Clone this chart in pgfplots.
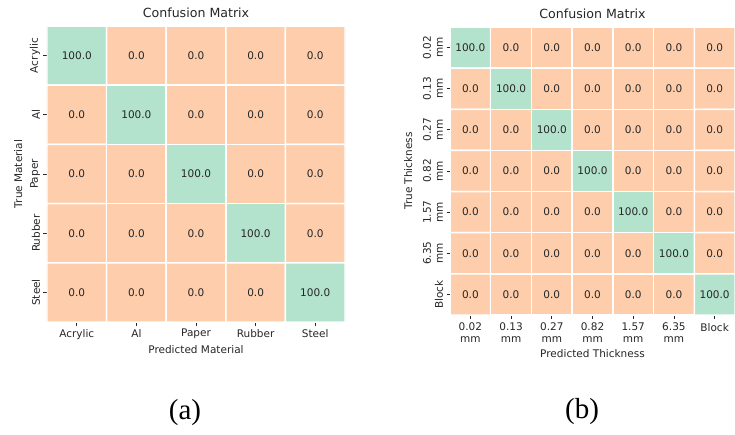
\documentclass[border=0pt]{standalone}
\usepackage{pgfplots}
\pgfplotsset{compat=1.18}
\usepackage{pgfplotstable}
\usepackage{fontspec}
\setmainfont{DejaVu Sans}
\newfontfamily\capfont{Liberation Serif}
\definecolor{txt}{HTML}{262626}

\pgfplotstableread{
x y v
0 0 100.0
1 0 0.0
2 0 0.0
3 0 0.0
4 0 0.0
0 1 0.0
1 1 100.0
2 1 0.0
3 1 0.0
4 1 0.0
0 2 0.0
1 2 0.0
2 2 100.0
3 2 0.0
4 2 0.0
0 3 0.0
1 3 0.0
2 3 0.0
3 3 100.0
4 3 0.0
0 4 0.0
1 4 0.0
2 4 0.0
3 4 0.0
4 4 100.0
}\matA

\pgfplotstableread{
x y v
0 0 100.0
1 0 0.0
2 0 0.0
3 0 0.0
4 0 0.0
5 0 0.0
6 0 0.0
0 1 0.0
1 1 100.0
2 1 0.0
3 1 0.0
4 1 0.0
5 1 0.0
6 1 0.0
0 2 0.0
1 2 0.0
2 2 100.0
3 2 0.0
4 2 0.0
5 2 0.0
6 2 0.0
0 3 0.0
1 3 0.0
2 3 0.0
3 3 100.0
4 3 0.0
5 3 0.0
6 3 0.0
0 4 0.0
1 4 0.0
2 4 0.0
3 4 0.0
4 4 100.0
5 4 0.0
6 4 0.0
0 5 0.0
1 5 0.0
2 5 0.0
3 5 0.0
4 5 0.0
5 5 100.0
6 5 0.0
0 6 0.0
1 6 0.0
2 6 0.0
3 6 0.0
4 6 0.0
5 6 0.0
6 6 100.0
}\matB

\pgfplotsset{cm/.style={
  scale only axis, enlargelimits=false,
  axis line style={draw=none},
  tick align=outside, major tick length=3.5pt,
  tick style={color=txt, line width=0.8pt},
  xtick pos=left, ytick pos=left,
  y dir=reverse,
  ticklabel style={font=\fontsize{10.5}{12}\selectfont, text=txt},
  label style={font=\fontsize{10.5}{12}\selectfont, text=txt},
  title style={font=\fontsize{12.6}{14}\selectfont, text=txt, at={(0.5,1)}, anchor=base, inner sep=0pt, yshift=3pt},
  colormap={pastel}{rgb255=(253,205,172) rgb255=(179,226,205)},
  point meta min=0, point meta max=100,
  nodes near coords style={font=\fontsize{10.5}{12}\selectfont, text=txt},
}}

\begin{document}
\begin{tikzpicture}
\useasboundingbox (0,0) rectangle (735pt,434pt);
\begin{axis}[cm,
  at={(47pt,112pt)}, anchor=south west,
  width=298pt, height=296pt,
  xmin=-0.5, xmax=4.5, ymin=-0.5, ymax=4.5,
  xtick={0,...,4}, ytick={0,...,4},
  xticklabels={Acrylic,Al,Paper,Rubber,Steel},
  yticklabels={Acrylic,Al,Paper,Rubber,Steel},
  yticklabel style={rotate=90, anchor=south},
  title={Confusion Matrix},
  xlabel={Predicted Material},
  ylabel={True Material},
  xlabel style={at={(axis description cs:0.5,0)}, anchor=center, yshift=-28pt},
  ylabel style={at={(axis description cs:-0.097,0.5)}, anchor=center},
]
\addplot[matrix plot*, mesh/cols=5, point meta=explicit, draw=white, line width=1.5pt] table[x=x, y=y, meta=v]{\matA};
\addplot[only marks, mark=text, text mark={}, point meta=explicit,
  nodes near coords={\pgfmathprintnumber[fixed, fixed zerofill, precision=1, assume math mode=true]{\pgfplotspointmeta}},
  nodes near coords align={center}] table[x=x, y=y, meta=v]{\matA};
\end{axis}

\begin{axis}[cm,
  at={(450pt,119pt)}, anchor=south west,
  width=285pt, height=288pt,
  xmin=-0.5, xmax=6.5, ymin=-0.5, ymax=6.5,
  xtick={0,...,6}, ytick={0,...,6},
  xticklabels={0.02\\mm,0.13\\mm,0.27\\mm,0.82\\mm,1.57\\mm,6.35\\mm,Block},
  yticklabels={0.02\\mm,0.13\\mm,0.27\\mm,0.82\\mm,1.57\\mm,6.35\\mm,Block},
  xticklabel style={align=center, yshift=-1pt},
  yticklabel style={rotate=90, anchor=south, align=center},
  title={Confusion Matrix},
  xlabel={Predicted Thickness},
  ylabel={True Thickness},
  xlabel style={at={(axis description cs:0.5,0)}, anchor=center, yshift=-39pt},
  ylabel style={at={(axis description cs:-0.147,0.5)}, anchor=center},
]
\addplot[matrix plot*, mesh/cols=7, point meta=explicit, draw=white, line width=1.5pt] table[x=x, y=y, meta=v]{\matB};
\addplot[only marks, mark=text, text mark={}, point meta=explicit,
  nodes near coords={\pgfmathprintnumber[fixed, fixed zerofill, precision=1, assume math mode=true]{\pgfplotspointmeta}},
  nodes near coords align={center}] table[x=x, y=y, meta=v]{\matB};
\end{axis}

\node[font=\capfont\fontsize{29}{32}\selectfont, text=black] at (185pt,21pt) {(a)};
\node[font=\capfont\fontsize{29}{32}\selectfont, text=black] at (582pt,22pt) {(b)};
\end{tikzpicture}
\end{document}
